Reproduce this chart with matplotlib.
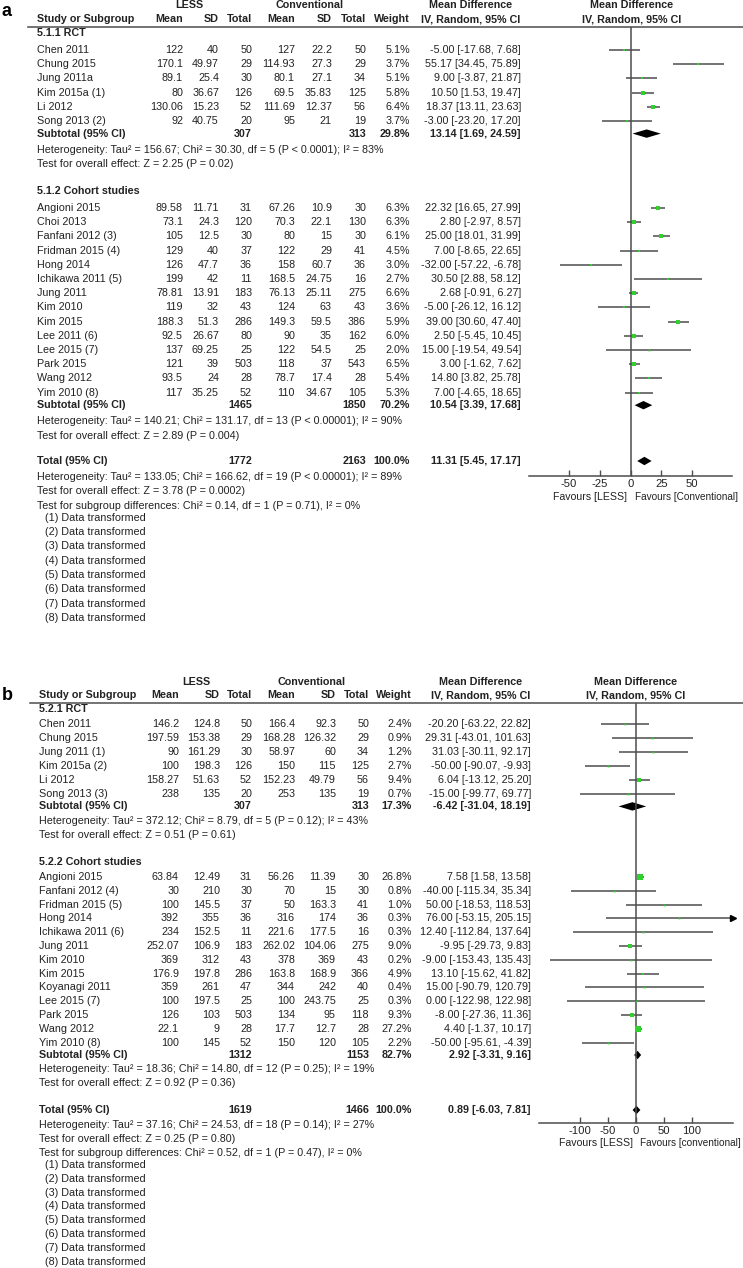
import numpy as np
import matplotlib
matplotlib.use("Agg")
import matplotlib.pyplot as plt

plt.rcParams['font.family'] = ['Liberation Sans', 'DejaVu Sans']

W, H = 743, 1268
FS = 7.75
FAV_FS = 7.2
TXT = '#222222'
LINE = '#4d4d4d'
GREEN = '#2ed12e'

# ---------------- panel a: operative time ----------------
a_rct_names = ['Chen 2011', 'Chung 2015', 'Jung 2011a', 'Kim 2015a (1)', 'Li 2012', 'Song 2013 (2)']
a_rct_m1 = ['122', '170.1', '89.1', '80', '130.06', '92']
a_rct_sd1 = ['40', '49.97', '25.4', '36.67', '15.23', '40.75']
a_rct_n1 = [50, 29, 30, 126, 52, 20]
a_rct_m2 = ['127', '114.93', '80.1', '69.5', '111.69', '95']
a_rct_sd2 = ['22.2', '27.3', '27.1', '35.83', '12.37', '21']
a_rct_n2 = [50, 29, 34, 125, 56, 19]
a_rct_w = [5.1, 3.7, 5.1, 5.8, 6.4, 3.7]
a_rct_md = [-5.00, 55.17, 9.00, 10.50, 18.37, -3.00]
a_rct_lo = [-17.68, 34.45, -3.87, 1.53, 13.11, -23.20]
a_rct_hi = [7.68, 75.89, 21.87, 19.47, 23.63, 17.20]
a_rct_sub = (307, 313, 29.8, 13.14, 1.69, 24.59)
a_rct_stats = ['Heterogeneity: Tau\u00b2 = 156.67; Chi\u00b2 = 30.30, df = 5 (P < 0.0001); I\u00b2 = 83%',
               'Test for overall effect: Z = 2.25 (P = 0.02)']

a_coh_names = ['Angioni 2015', 'Choi 2013', 'Fanfani 2012 (3)', 'Fridman 2015 (4)', 'Hong 2014',
               'Ichikawa 2011 (5)', 'Jung 2011', 'Kim 2010', 'Kim 2015', 'Lee 2011 (6)',
               'Lee 2015 (7)', 'Park 2015', 'Wang 2012', 'Yim 2010 (8)']
a_coh_m1 = ['89.58', '73.1', '105', '129', '126', '199', '78.81', '119', '188.3', '92.5', '137', '121', '93.5', '117']
a_coh_sd1 = ['11.71', '24.3', '12.5', '40', '47.7', '42', '13.91', '32', '51.3', '26.67', '69.25', '39', '24', '35.25']
a_coh_n1 = [31, 120, 30, 37, 36, 11, 183, 43, 286, 80, 25, 503, 28, 52]
a_coh_m2 = ['67.26', '70.3', '80', '122', '158', '168.5', '76.13', '124', '149.3', '90', '122', '118', '78.7', '110']
a_coh_sd2 = ['10.9', '22.1', '15', '29', '60.7', '24.75', '25.11', '63', '59.5', '35', '54.5', '37', '17.4', '34.67']
a_coh_n2 = [30, 130, 30, 41, 36, 16, 275, 43, 386, 162, 25, 543, 28, 105]
a_coh_w = [6.3, 6.3, 6.1, 4.5, 3.0, 2.7, 6.6, 3.6, 5.9, 6.0, 2.0, 6.5, 5.4, 5.3]
a_coh_md = [22.32, 2.80, 25.00, 7.00, -32.00, 30.50, 2.68, -5.00, 39.00, 2.50, 15.00, 3.00, 14.80, 7.00]
a_coh_lo = [16.65, -2.97, 18.01, -8.65, -57.22, 2.88, -0.91, -26.12, 30.60, -5.45, -19.54, -1.62, 3.82, -4.65]
a_coh_hi = [27.99, 8.57, 31.99, 22.65, -6.78, 58.12, 6.27, 16.12, 47.40, 10.45, 49.54, 7.62, 25.78, 18.65]
a_coh_sub = (1465, 1850, 70.2, 10.54, 3.39, 17.68)
a_coh_stats = ['Heterogeneity: Tau\u00b2 = 140.21; Chi\u00b2 = 131.17, df = 13 (P < 0.00001); I\u00b2 = 90%',
               'Test for overall effect: Z = 2.89 (P = 0.004)']

a_total = (1772, 2163, 100.0, 11.31, 5.45, 17.17)
a_total_stats = ['Heterogeneity: Tau\u00b2 = 133.05; Chi\u00b2 = 166.62, df = 19 (P < 0.00001); I\u00b2 = 89%',
                 'Test for overall effect: Z = 3.78 (P = 0.0002)',
                 'Test for subgroup differences: Chi\u00b2 = 0.14, df = 1 (P = 0.71), I\u00b2 = 0%']
a_ticks = [-50, -25, 0, 25, 50]
a_favours = ['Favours [LESS]', 'Favours [Conventional]']

# ---------------- panel b: blood loss ----------------
b_rct_names = ['Chen 2011', 'Chung 2015', 'Jung 2011 (1)', 'Kim 2015a (2)', 'Li 2012', 'Song 2013 (3)']
b_rct_m1 = ['146.2', '197.59', '90', '100', '158.27', '238']
b_rct_sd1 = ['124.8', '153.38', '161.29', '198.3', '51.63', '135']
b_rct_n1 = [50, 29, 30, 126, 52, 20]
b_rct_m2 = ['166.4', '168.28', '58.97', '150', '152.23', '253']
b_rct_sd2 = ['92.3', '126.32', '60', '115', '49.79', '135']
b_rct_n2 = [50, 29, 34, 125, 56, 19]
b_rct_w = [2.4, 0.9, 1.2, 2.7, 9.4, 0.7]
b_rct_md = [-20.20, 29.31, 31.03, -50.00, 6.04, -15.00]
b_rct_lo = [-63.22, -43.01, -30.11, -90.07, -13.12, -99.77]
b_rct_hi = [22.82, 101.63, 92.17, -9.93, 25.20, 69.77]
b_rct_sub = (307, 313, 17.3, -6.42, -31.04, 18.19)
b_rct_stats = ['Heterogeneity: Tau\u00b2 = 372.12; Chi\u00b2 = 8.79, df = 5 (P = 0.12); I\u00b2 = 43%',
               'Test for overall effect: Z = 0.51 (P = 0.61)']

b_coh_names = ['Angioni 2015', 'Fanfani 2012 (4)', 'Fridman 2015 (5)', 'Hong 2014', 'Ichikawa 2011 (6)',
               'Jung 2011', 'Kim 2010', 'Kim 2015', 'Koyanagi 2011', 'Lee 2015 (7)', 'Park 2015',
               'Wang 2012', 'Yim 2010 (8)']
b_coh_m1 = ['63.84', '30', '100', '392', '234', '252.07', '369', '176.9', '359', '100', '126', '22.1', '100']
b_coh_sd1 = ['12.49', '210', '145.5', '355', '152.5', '106.9', '312', '197.8', '261', '197.5', '103', '9', '145']
b_coh_n1 = [31, 30, 37, 36, 11, 183, 43, 286, 47, 25, 503, 28, 52]
b_coh_m2 = ['56.26', '70', '50', '316', '221.6', '262.02', '378', '163.8', '344', '100', '134', '17.7', '150']
b_coh_sd2 = ['11.39', '15', '163.3', '174', '177.5', '104.06', '369', '168.9', '242', '243.75', '95', '12.7', '120']
b_coh_n2 = [30, 30, 41, 36, 16, 275, 43, 366, 40, 25, 118, 28, 105]
b_coh_w = [26.8, 0.8, 1.0, 0.3, 0.3, 9.0, 0.2, 4.9, 0.4, 0.3, 9.3, 27.2, 2.2]
b_coh_md = [7.58, -40.00, 50.00, 76.00, 12.40, -9.95, -9.00, 13.10, 15.00, 0.00, -8.00, 4.40, -50.00]
b_coh_lo = [1.58, -115.34, -18.53, -53.15, -112.84, -29.73, -153.43, -15.62, -90.79, -122.98, -27.36, -1.37, -95.61]
b_coh_hi = [13.58, 35.34, 118.53, 205.15, 137.64, 9.83, 135.43, 41.82, 120.79, 122.98, 11.36, 10.17, -4.39]
b_coh_sub = (1312, 1153, 82.7, 2.92, -3.31, 9.16)
b_coh_stats = ['Heterogeneity: Tau\u00b2 = 18.36; Chi\u00b2 = 14.80, df = 12 (P = 0.25); I\u00b2 = 19%',
               'Test for overall effect: Z = 0.92 (P = 0.36)']

b_total = (1619, 1466, 100.0, 0.89, -6.03, 7.81)
b_total_stats = ['Heterogeneity: Tau\u00b2 = 37.16; Chi\u00b2 = 24.53, df = 18 (P = 0.14); I\u00b2 = 27%',
                 'Test for overall effect: Z = 0.25 (P = 0.80)',
                 'Test for subgroup differences: Chi\u00b2 = 0.52, df = 1 (P = 0.47), I\u00b2 = 0%']
b_ticks = [-100, -50, 0, 50, 100]
b_favours = ['Favours [LESS]', 'Favours [conventional]']

footnotes = ['(%d) Data transformed' % i for i in range(1, 9)]


def fmt_ci(md, lo, hi):
    return '%.2f [%.2f, %.2f]' % (md, lo, hi)


def draw_panel(ax, letter, groups, total, total_stats, ticks, favours, lay):
    cols = lay['cols']
    y0 = lay['top']
    # headers
    ax.text(2, lay['letter_y'], letter, fontsize=13, fontweight='bold', va='center', color='black')
    hb = dict(fontsize=FS, fontweight='bold', va='center', color=TXT)
    ax.text(lay['less_c'], y0, 'LESS', ha='center', **hb)
    ax.text(lay['conv_c'], y0, 'Conventional', ha='center', **hb)
    ax.text(lay['md_c'], y0, 'Mean Difference', ha='center', **hb)
    ax.text(lay['fp_c'], y0, 'Mean Difference', ha='center', **hb)
    y1 = y0 + lay['hdr_gap']
    ax.text(cols['name'], y1, 'Study or Subgroup', ha='left', **hb)
    for key, lab in zip(['m1', 'sd1', 'n1', 'm2', 'sd2', 'n2', 'w'],
                        ['Mean', 'SD', 'Total', 'Mean', 'SD', 'Total', 'Weight']):
        ax.text(cols[key], y1, lab, ha='right', **hb)
    ax.text(lay['md_c'], y1, 'IV, Random, 95% CI', ha='center', **hb)
    ax.text(lay['fp_c'], y1, 'IV, Random, 95% CI', ha='center', **hb)
    hline = lay['hline']
    ax.plot([lay['line_x0'], W], [hline, hline], color=LINE, lw=1.1)

    # forest axes
    fx0, fx1 = lay['fp_px']
    ybot = lay['axis_y']
    fa = plt.gcf().add_axes([fx0 / W, 1 - ybot / H, (fx1 - fx0) / W, (ybot - hline) / H])
    fa.set_xlim(*lay['xlim'])
    fa.set_ylim(ybot, hline)
    fa.patch.set_alpha(0)
    for s in ['top', 'left', 'right']:
        fa.spines[s].set_visible(False)
    fa.spines['bottom'].set_color(LINE)
    fa.spines['bottom'].set_linewidth(1.1)
    fa.set_yticks([])
    fa.set_xticks(ticks)
    fa.set_xticklabels([str(t) for t in ticks])
    fa.tick_params(axis='x', direction='in', length=4, width=1, color=LINE,
                   labelsize=FS + 0.4, labelcolor=TXT, pad=2)
    fa.axvline(0, color=LINE, lw=1.1)
    xmin, xmax = lay['xlim']
    fa.text(-xmax * 0.03, lay['fav_y'], favours[0], ha='right', va='center', fontsize=FAV_FS + 0.4, color=TXT)
    fa.text(xmax * 0.04, lay['fav_y'], favours[1], ha='left', va='center', fontsize=FAV_FS, color=TXT)

    def diamond(y, md, lo, hi):
        fa.fill([lo, md, hi, md], [y, y - 4.2, y, y + 4.2], color='black', lw=0)

    def row_numbers(y, vals, bold=False):
        kw = dict(fontsize=FS, va='center', ha='right', color=TXT,
                  fontweight='bold' if bold else 'normal')
        for key, v in zip(['m1', 'sd1', 'n1', 'm2', 'sd2', 'n2', 'w', 'ci'], vals):
            if v != '':
                ax.text(cols[key], y, v, **kw)

    wmax = lay['wscale']
    for gi, g in enumerate(groups):
        y = lay['group_y'][gi]
        ax.text(cols['name'], y, g['title'], ha='left', **hb)
        step = lay['steps'][gi]
        ys = y + lay['first_gap'] + step * np.arange(len(g['names']))
        for i, yy in enumerate(ys):
            ax.text(cols['name'], yy, g['names'][i], fontsize=FS, va='center', ha='left', color=TXT)
            row_numbers(yy, [g['m1'][i], g['sd1'][i], str(g['n1'][i]), g['m2'][i], g['sd2'][i],
                             str(g['n2'][i]), '%.1f%%' % g['w'][i],
                             fmt_ci(g['md'][i], g['lo'][i], g['hi'][i])])
            lo, hi = g['lo'][i], g['hi'][i]
            fa.plot([max(lo, xmin), min(hi, xmax)], [yy, yy], color=LINE, lw=1.1, solid_capstyle='butt')
            if hi > xmax:
                fa.plot([xmax], [yy], marker='>', ms=4, color='black', clip_on=False)
            if lo < xmin:
                fa.plot([xmin], [yy], marker='<', ms=4, color='black', clip_on=False)
            side = max(wmax * np.sqrt(g['w'][i]), 1.8)
            fa.plot([g['md'][i]], [yy], marker='s', ms=side * 0.72, color=GREEN, mew=0, zorder=3)
        ysub = ys[-1] + lay['sub_gap']
        n1, n2, w, md, lo, hi = g['sub']
        ax.text(cols['name'], ysub, 'Subtotal (95% CI)', ha='left', **hb)
        row_numbers(ysub, ['', '', str(n1), '', '', str(n2), '%.1f%%' % w, fmt_ci(md, lo, hi)], bold=True)
        diamond(ysub, md, lo, hi)
        for k, s in enumerate(g['stats']):
            ax.text(cols['name'], ysub + lay['stat_gap'] + k * lay['stat_step'], s,
                    fontsize=FS, va='center', ha='left', color=TXT)

    yt = lay['total_y']
    n1, n2, w, md, lo, hi = total
    ax.text(cols['name'], yt, 'Total (95% CI)', ha='left', **hb)
    row_numbers(yt, ['', '', str(n1), '', '', str(n2), '%.1f%%' % w, fmt_ci(md, lo, hi)], bold=True)
    diamond(yt, md, lo, hi)
    for k, s in enumerate(total_stats):
        ax.text(cols['name'], yt + lay['stat_gap'] + k * lay['stat_step'], s,
                fontsize=FS, va='center', ha='left', color=TXT)
    yf = yt + lay['stat_gap'] + 2 * lay['stat_step'] + lay['foot_gap']
    for k, s in enumerate(footnotes):
        ax.text(cols['foot'], yf + k * lay['foot_step'], s, fontsize=FS, va='center', ha='left', color=TXT)


fig = plt.figure(figsize=(W / 100, H / 100), dpi=100)
ax = fig.add_axes([0, 0, 1, 1])
ax.set_xlim(0, W)
ax.set_ylim(H, 0)
ax.axis('off')

groups_a = [
    dict(title='5.1.1 RCT', names=a_rct_names, m1=a_rct_m1, sd1=a_rct_sd1, n1=a_rct_n1, m2=a_rct_m2,
         sd2=a_rct_sd2, n2=a_rct_n2, w=a_rct_w, md=a_rct_md, lo=a_rct_lo, hi=a_rct_hi,
         sub=a_rct_sub, stats=a_rct_stats),
    dict(title='5.1.2 Cohort studies', names=a_coh_names, m1=a_coh_m1, sd1=a_coh_sd1, n1=a_coh_n1,
         m2=a_coh_m2, sd2=a_coh_sd2, n2=a_coh_n2, w=a_coh_w, md=a_coh_md, lo=a_coh_lo, hi=a_coh_hi,
         sub=a_coh_sub, stats=a_coh_stats),
]
lay_a = dict(cols=dict(name=37, m1=183, sd1=219, n1=252, m2=295, sd2=332, n2=366, w=410, ci=521, foot=45),
             top=5, letter_y=12, hdr_gap=14, hline=27, line_x0=28,
             less_c=189, conv_c=309, md_c=471, fp_c=632,
             fp_px=(529, 732), xlim=(-82.5, 82.5), axis_y=476, fav_y=497,
             group_y=[33, 191], first_gap=17, steps=[14.2, 14.2], sub_gap=12.6,
             stat_gap=16, stat_step=14.4, total_y=461, foot_gap=12, foot_step=14.3, wscale=1.25)
draw_panel(ax, 'a', groups_a, a_total, a_total_stats, a_ticks, a_favours, lay_a)

groups_b = [
    dict(title='5.2.1 RCT', names=b_rct_names, m1=b_rct_m1, sd1=b_rct_sd1, n1=b_rct_n1, m2=b_rct_m2,
         sd2=b_rct_sd2, n2=b_rct_n2, w=b_rct_w, md=b_rct_md, lo=b_rct_lo, hi=b_rct_hi,
         sub=b_rct_sub, stats=b_rct_stats),
    dict(title='5.2.2 Cohort studies', names=b_coh_names, m1=b_coh_m1, sd1=b_coh_sd1, n1=b_coh_n1,
         m2=b_coh_m2, sd2=b_coh_sd2, n2=b_coh_n2, w=b_coh_w, md=b_coh_md, lo=b_coh_lo, hi=b_coh_hi,
         sub=b_coh_sub, stats=b_coh_stats),
]
lay_b = dict(cols=dict(name=39, m1=179, sd1=220, n1=252, m2=295, sd2=336, n2=369, w=412, ci=531, foot=45),
             top=682, letter_y=696, hdr_gap=13.5, hline=703, line_x0=30,
             less_c=196, conv_c=312, md_c=481, fp_c=636,
             fp_px=(539, 733), xlim=(-173, 173), axis_y=1123, fav_y=1143,
             group_y=[709, 862], first_gap=15, steps=[14.0, 13.8], sub_gap=12.4,
             stat_gap=14.5, stat_step=14.0, total_y=1110, foot_gap=12.5, foot_step=13.8, wscale=1.15)
draw_panel(ax, 'b', groups_b, b_total, b_total_stats, b_ticks, b_favours, lay_b)

fig.savefig('out.png', dpi=100, facecolor='white')
